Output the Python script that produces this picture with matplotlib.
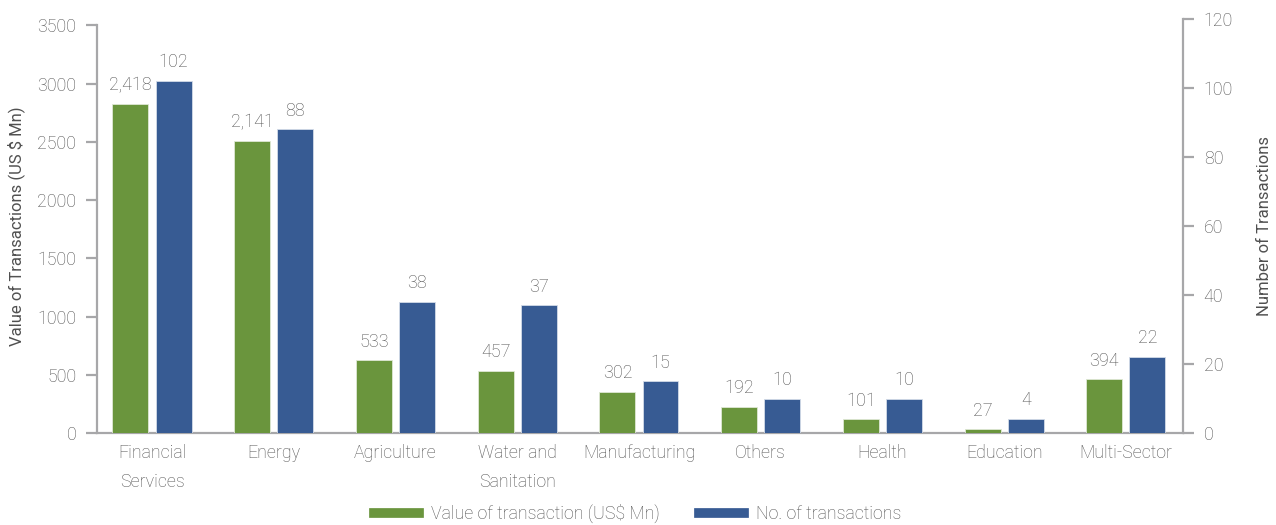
import matplotlib
matplotlib.use("Agg")
import numpy as np
import matplotlib.pyplot as plt
from matplotlib.lines import Line2D

# ── Data ─────────────────────────────────────────────────────────────────────
sectors = ["Financial\nServices", "Energy", "Agriculture", "Water and\nSanitation",
           "Manufacturing", "Others", "Health", "Education", "Multi-Sector"]
value_musd = [2418, 2141, 533, 457, 302, 192, 101, 27, 394]
n_transactions = [102, 88, 38, 37, 15, 10, 10, 4, 22]
value_labels = ["2,418", "2,141", "533", "457", "302", "192", "101", "27", "394"]

GREEN = "#6a953d"
BLUE = "#375b93"
GREY = "#a7a7a9"
TXT = "#505050"

plt.rcParams["font.family"] = ["Roboto", "DejaVu Sans"]
plt.rcParams["font.weight"] = "light"
plt.rcParams["font.size"] = 12
plt.rcParams["text.color"] = TXT

fig = plt.figure(figsize=(12.76, 5.25), dpi=100)
ax = fig.add_axes([0.076, 0.1752, 0.851, 0.7886])
ax_n = ax.twinx()      # right axis: number of transactions
ax_v = ax.twinx()      # hidden axis carrying the value bars
ax_v.set_axis_off()

x = np.arange(len(sectors))
w = 0.295
off = 0.177

bv = ax_v.bar(x - off, value_musd, width=w, color=GREEN, edgecolor="#dfe8d5", linewidth=0.6)
bn = ax_n.bar(x + off, n_transactions, width=w, color=BLUE, edgecolor="#d3dbe8", linewidth=0.6)

for rect, lab in zip(bv, value_labels):
    ax_v.annotate(lab, (rect.get_x() + rect.get_width() / 2, rect.get_height()),
                  xytext=(0, 7), textcoords="offset points", ha="center", va="bottom",
                  fontsize=13, color=TXT)
for rect, v in zip(bn, n_transactions):
    ax_n.annotate(f"{v}", (rect.get_x() + rect.get_width() / 2, rect.get_height()),
                  xytext=(0, 7), textcoords="offset points", ha="center", va="bottom",
                  fontsize=13, color=TXT)

xlim = (-0.452, 8.468)
for a in (ax, ax_n, ax_v):
    a.set_xlim(*xlim)

ax.set_ylim(0, 3555)
ax.set_yticks(np.arange(0, 3501, 500))
ax_v.set_ylim(0, 3040)
ax_n.set_ylim(0, 120)
ax_n.set_yticks(np.arange(0, 121, 20))

for a in (ax, ax_n):
    for s in a.spines.values():
        s.set_color(GREY)
        s.set_linewidth(1.6)
    a.spines["top"].set_visible(False)
ax.spines["right"].set_visible(False)
ax.spines["left"].set_bounds(0, 3500)
ax_n.spines["left"].set_visible(False)
ax_n.spines["bottom"].set_visible(False)

ax.set_xticks(x)
ax.set_xticklabels(sectors, fontsize=12.8, color=TXT, linespacing=1.75)
ax.tick_params(axis="x", length=0, pad=8)
ax.tick_params(axis="y", length=8, width=1.6, color=GREY, labelcolor=TXT, labelsize=12.8, pad=7)
ax_n.tick_params(axis="y", length=8, width=1.6, color=GREY, labelcolor=TXT, labelsize=12.8, pad=7)

ax.set_ylabel("Value of Transactions (US $ Mn)", fontsize=12, color=TXT, labelpad=9)
ax_n.set_ylabel("Number of Transactions", fontsize=12, color=TXT, labelpad=17)

handles = [Line2D([0], [0], color=GREEN, lw=7),
           Line2D([0], [0], color=BLUE, lw=7)]
fig.legend(handles, ["Value of transaction (US$ Mn)", "No. of transactions"],
           loc="center", bbox_to_anchor=(0.5, 0.022), ncol=2, frameon=False,
           fontsize=12.8, handlelength=2.5, handletextpad=0.7, columnspacing=2.2,
           labelcolor=TXT)

fig.savefig("out.png", dpi=100)
